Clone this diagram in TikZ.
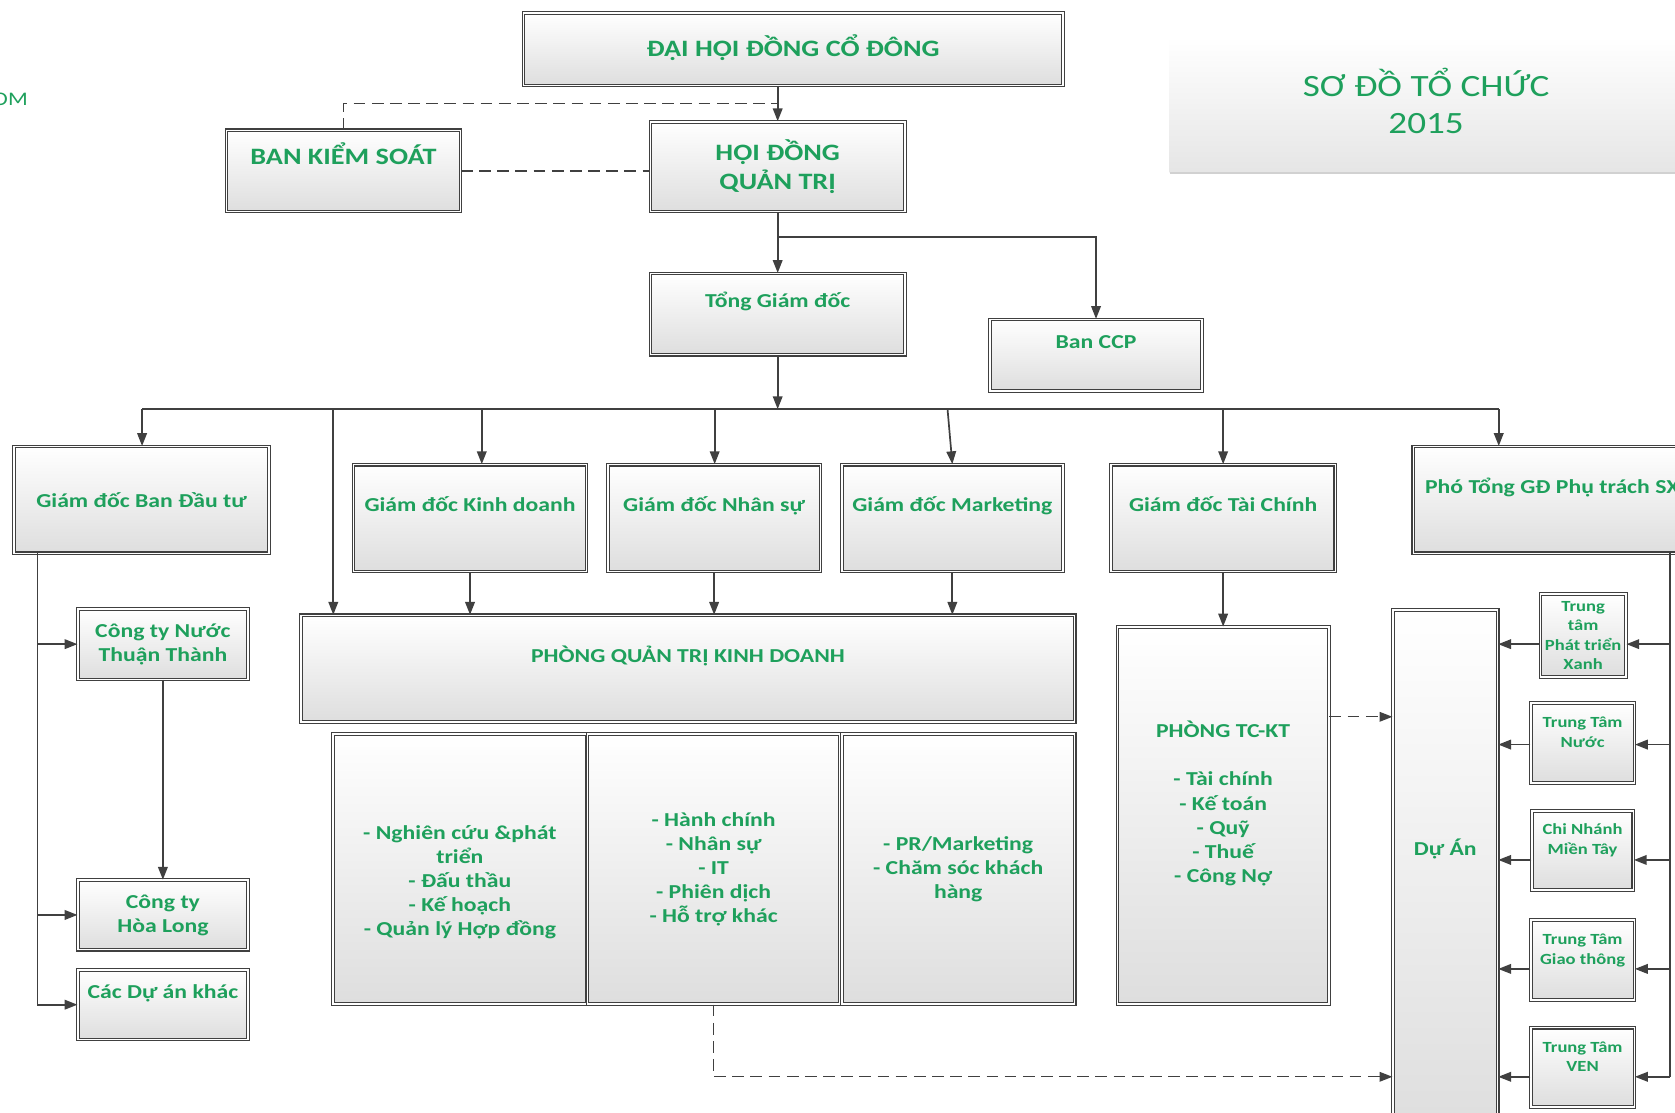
\documentclass[tikz,border=0pt]{standalone}
\usepackage{fontspec}
\setmainfont{Carlito}[FakeStretch=1.2]
\usetikzlibrary{arrows.meta}

\definecolor{orggreen}{RGB}{30,160,92}
\definecolor{linegray}{RGB}{64,64,64}

\tikzset{
  box/.style={draw=linegray, line width=1pt, double=white, double distance=1.5pt,
    top color=white, bottom color=black!13, text=orggreen, align=center,
    inner sep=2pt, font=\bfseries\fontsize{18.5}{22.5}\selectfont},
  bigbox/.style={box, font=\bfseries\fontsize{22}{27}\selectfont},
  smallbox/.style={box, font=\bfseries\fontsize{14.5}{18}\selectfont},
  titlebox/.style={top color=white, bottom color=black!10, text=orggreen, align=center,
    font=\fontsize{29}{35}\selectfont},
  sidetext/.style={text=orggreen, inner sep=0pt, font=\fontsize{18}{20}\selectfont},
  conn/.style={draw=linegray, line width=1.6pt},
  dashedline/.style={conn, line width=1.3pt, dash pattern=on 11pt off 6pt},
}

\begin{document}
\begin{tikzpicture}[x=1pt,y=-1pt,>={Triangle[length=12pt,width=9pt]}]
  \clip (0,0) rectangle (1568,1041);
  % khung tiêu đề
  \node[titlebox, minimum width=480pt, minimum height=127pt, text depth=7pt] (title) at (1335,98) {SƠ ĐỒ TỔ CHỨC\\2015};
  \draw[black!18, line width=1.5pt] (title.south west) -- (title.south east);
  \node[sidetext, anchor=west] (om) at (-7,93) {OM};
  % cấp trên
  \node[bigbox, minimum width=505pt, minimum height=68pt, text depth=7pt] (dhdcd) at (742.5,46) {ĐẠI HỘI ĐỒNG CỔ ĐÔNG};
  \node[bigbox, minimum width=219pt, minimum height=76pt, text depth=32pt] (bks) at (321.5,160) {BAN KIỂM SOÁT};
  \node[bigbox, minimum width=238pt, minimum height=84pt] (hdqt) at (728,156) {HỘI ĐỒNG\\QUẢN TRỊ};
  \node[box, minimum width=238pt, minimum height=76pt, text depth=26pt] (tgd) at (728,294) {Tổng Giám đốc};
  \node[box, minimum width=198pt, minimum height=67pt, text depth=25pt] (ccp) at (1026,332.5) {Ban CCP};
  % các giám đốc
  \node[box, minimum width=239pt, minimum height=100pt] (gddt) at (132.5,468) {Giám đốc Ban Đầu tư};
  \node[box, minimum width=218pt, minimum height=100pt, text depth=26pt] (gdkd) at (440,485) {Giám đốc Kinh doanh};
  \node[box, minimum width=199pt, minimum height=100pt, text depth=26pt] (gdns) at (668.5,485) {Giám đốc Nhân sự};
  \node[box, minimum width=207pt, minimum height=100pt, text depth=26pt] (gdmk) at (891.5,485) {Giám đốc Marketing};
  \node[box, minimum width=210pt, minimum height=100pt, text depth=26pt] (gdtc) at (1145,485) {Giám đốc Tài Chính};
  \node[box, minimum width=260pt, minimum height=100pt, text depth=26pt] (ptgd) at (1453,468) {Phó Tổng GĐ Phụ trách SX};
  % cột trái
  \node[box, minimum width=159pt, minimum height=66pt] (ctnuoc) at (152.5,603) {Công ty Nước\\Thuận Thành};
  \node[box, minimum width=159pt, minimum height=65pt] (hoalong) at (152.5,856.5) {Công ty\\Hòa Long};
  \node[box, minimum width=159pt, minimum height=65pt, text depth=25pt] (duankhac) at (152.5,940.5) {Các Dự án khác};
  % phòng quản trị kinh doanh
  \node[box, minimum width=724pt, minimum height=100pt, text depth=28pt] (pqtkd) at (644,626) {PHÒNG QUẢN TRỊ KINH DOANH};
  \node[box, minimum width=237pt, minimum height=253pt, text height=130pt, text depth=5pt] (pkd1) at (430.5,813.5) {- Nghiên cứu \&phát\\triển\\- Đấu thầu\\- Kế hoạch\\- Quản lý Hợp đồng};
  \node[box, minimum width=236pt, minimum height=253pt] (pkd2) at (668,813.5) {- Hành chính\\- Nhân sự\\- IT\\- Phiên dịch\\- Hỗ trợ khác};
  \node[box, minimum width=218pt, minimum height=253pt] (pkd3) at (897,813.5) {- PR/Marketing\\- Chăm sóc khách\\hàng};
  % tài chính, dự án
  \node[box, minimum width=198pt, minimum height=353pt, text depth=26pt] (tckt) at (1145,763.5) {PHÒNG TC-KT\\[22.5pt]- Tài chính\\- Kế toán\\- Quỹ\\- Thuế\\- Công Nợ};
  \node[box, minimum width=98pt, minimum height=489pt, text depth=45pt] (duan) at (1353,815.5) {Dự Án};
  % cột phải
  \node[smallbox, minimum width=80pt, minimum height=78pt] (ttxanh) at (1482,595) {Trung\\tâm\\Phát triển\\Xanh};
  \node[smallbox, minimum width=97pt, minimum height=75pt, text depth=20pt] (ttnuoc) at (1481.5,695.5) {Trung Tâm\\Nước};
  \node[smallbox, minimum width=95pt, minimum height=74pt, text depth=21pt] (cnmt) at (1481.5,796) {Chi Nhánh\\Miền Tây};
  \node[smallbox, minimum width=97pt, minimum height=75pt, text depth=20pt] (ttgt) at (1481.5,898.5) {Trung Tâm\\Giao thông};
  \node[smallbox, minimum width=97pt, minimum height=74pt, text depth=19pt] (ttven) at (1481.5,999) {Trung Tâm\\VEN};

  % nối phần trên
  \coordinate (j1) at (728,97);
  \coordinate (j2) at (728,222);
  \draw[conn,->] (hdqt.north |- dhdcd.south) -- (hdqt.north);
  \draw[dashedline] (bks.north) |- (j1);
  \draw[dashedline] (bks.east) -- (bks.east -| hdqt.west);
  \draw[conn,->] (hdqt.south) -- (tgd.north);
  \draw[conn,->] (j2) -| (ccp.north);
  % thanh ngang
  \coordinate (b1) at (133,383);
  \coordinate (b2) at (312,383);
  \coordinate (b3) at (451,383);
  \coordinate (b4) at (669,383);
  \coordinate (b5) at (887,383);
  \coordinate (b6) at (1145,383);
  \coordinate (b7) at (1403,383);
  \draw[conn] (b1) -- (b7);
  \draw[conn,->] (tgd.south) -- (tgd.south |- b1);
  \draw[conn,->] (b1) -- (b1 |- gddt.north);
  \draw[conn,->] (b2) -- (b2 |- pqtkd.north);
  \draw[conn,->] (b3) -- (b3 |- gdkd.north);
  \draw[conn,->] (b4) -- (b4 |- gdns.north);
  \draw[conn,->] (b5) -- (gdmk.north);
  \draw[conn,->] (b6) -- (b6 |- gdtc.north);
  \draw[conn,->] (b7) -- (b7 |- ptgd.north);
  \draw[conn,->] (gdkd.south) -- (gdkd.south |- pqtkd.north);
  \draw[conn,->] (gdns.south) -- (gdns.south |- pqtkd.north);
  \draw[conn,->] (gdmk.south) -- (gdmk.south |- pqtkd.north);
  \draw[conn,->] (gdtc.south) -- (tckt.north);
  % cột trái
  \coordinate (l1) at (35,518);
  \draw[conn] (l1) -- (l1 |- duankhac.west);
  \draw[conn,->] (l1 |- ctnuoc.west) -- (ctnuoc.west);
  \draw[conn,->] (l1 |- hoalong.west) -- (hoalong.west);
  \draw[conn,->] (l1 |- duankhac.west) -- (duankhac.west);
  \draw[conn,->] (ctnuoc.south) -- (hoalong.north);
  % cột phải
  \coordinate (r0) at (1563,518);
  \coordinate (r1) at (1563,603);
  \coordinate (r2) at (1563,697);
  \coordinate (r3) at (1563,805);
  \coordinate (r4) at (1563,907);
  \coordinate (r5) at (1563,1008);
  \draw[conn] (r0) -- (r5);
  \draw[conn,->] (r1) -- (r1 -| ttxanh.east);
  \draw[conn,->] (r2) -- (r2 -| ttnuoc.east);
  \draw[conn,->] (r3) -- (r3 -| cnmt.east);
  \draw[conn,->] (r4) -- (r4 -| ttgt.east);
  \draw[conn,->] (r5) -- (r5 -| ttven.east);
  \draw[conn,->] (r1 -| ttxanh.west) -- (r1 -| duan.east);
  \draw[conn,->] (r2 -| ttnuoc.west) -- (r2 -| duan.east);
  \draw[conn,->] (r3 -| cnmt.west) -- (r3 -| duan.east);
  \draw[conn,->] (r4 -| ttgt.west) -- (r4 -| duan.east);
  \draw[conn,->] (r5 -| ttven.west) -- (r5 -| duan.east);
  % nét đứt vào dự án
  \coordinate (d1) at (1270,671);
  \draw[dashedline,->] (d1 -| tckt.east) -- (d1 -| duan.west);
  \draw[dashedline,->] (pkd2.south) |- (r5 -| duan.west);
\end{tikzpicture}
\end{document}
